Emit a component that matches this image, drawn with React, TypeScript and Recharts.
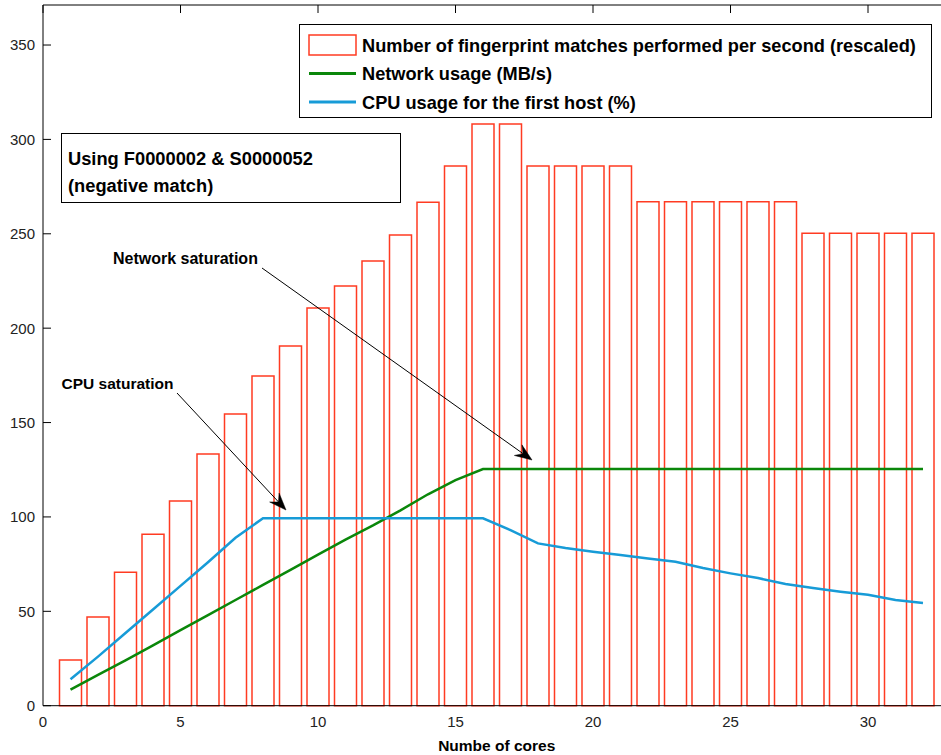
import React from 'react';
import { ComposedChart, Bar, Line, XAxis, YAxis, Legend } from 'recharts';

const cores = [1, 2, 3, 4, 5, 6, 7, 8, 9, 10, 11, 12, 13, 14, 15, 16, 17, 18, 19, 20, 21, 22, 23, 24, 25, 26, 27, 28, 29, 30, 31, 32];
const matchesPerSecond = [24.2, 47, 70.7, 90.8, 108.4, 133.3, 154.5, 174.7, 190.6, 210.7, 222.3, 235.6, 249.4, 266.7, 285.9, 308.2, 308.2, 285.9, 285.9, 285.9, 285.9, 267, 267, 267, 267, 267, 267, 250.3, 250.3, 250.3, 250.3, 250.3];
const networkUsage = [8.5, 16.3, 24, 32, 40, 48, 56, 64, 72, 80, 88, 95.5, 103.5, 112, 119.5, 125.4, 125.4, 125.4, 125.4, 125.4, 125.4, 125.4, 125.4, 125.4, 125.4, 125.4, 125.4, 125.4, 125.4, 125.4, 125.4, 125.4];
const cpuUsage = [14, 26, 38.5, 51, 63.5, 76, 89, 99.3, 99.3, 99.3, 99.3, 99.3, 99.3, 99.3, 99.3, 99.3, 93, 86, 83.5, 81.6, 79.8, 78, 76.3, 72.9, 70.1, 67.6, 64.5, 62.3, 60.4, 58.8, 56, 54.4];

const xTicks = [0, 5, 10, 15, 20, 25, 30];
const yTicks = [0, 50, 100, 150, 200, 250, 300, 350];
const xDomain: [number, number] = [0, 33];
const yDomain: [number, number] = [0, 371.2];

const seriesOrder = ['matches', 'network', 'cpu'];
const seriesNames = {
  matches: 'Number of fingerprint matches performed per second (rescaled)',
  network: 'Network usage (MB/s)',
  cpu: 'CPU usage for the first host (%)',
};

const data = cores.map((c, i) => ({
  cores: c,
  matches: matchesPerSecond[i],
  network: networkUsage[i],
  cpu: cpuUsage[i],
}));

const RED = '#ff3b22';
const GREEN = '#0a870a';
const BLUE = '#179bd7';
const FONT = '"Liberation Sans", Arial, Helvetica, sans-serif';
const colorMap: Record<string, string> = { matches: RED, network: GREEN, cpu: BLUE };

const EmptyTick = () => <g />;

const LeftTick = (props: any) => {
  const { x, y, payload } = props;
  return (
    <g>
      <line x1={x} x2={x + 8} y1={y} y2={y} stroke="#000" strokeWidth={1} />
      <text x={x - 8} y={y} dy="0.36em" textAnchor="end" fontFamily={FONT} fontSize={15} fill="#222">
        {payload.value}
      </text>
    </g>
  );
};

const renderLegend = (props: any) => {
  const payload = [...(props.payload || [])].sort(
    (a: any, b: any) => seriesOrder.indexOf(String(a.dataKey)) - seriesOrder.indexOf(String(b.dataKey))
  );
  return (
    <svg width={633} height={94} style={{ display: 'block' }}>
      <rect x={0.5} y={0.5} width={632} height={93} fill="#fff" stroke="#000" strokeWidth={1} />
      {payload.map((e: any, i: number) => {
        const cy = 21 + i * 28.5;
        const key = String(e.dataKey);
        const c = colorMap[key] || e.color;
        return (
          <g key={i}>
            {key === 'matches' ? (
              <rect x={10} y={cy - 10} width={47} height={20} fill="#fff" stroke={c} strokeWidth={1.5} />
            ) : (
              <line x1={10} x2={57} y1={cy} y2={cy} stroke={c} strokeWidth={3} />
            )}
            <text x={63} y={cy} dy="0.36em" fontFamily={FONT} fontSize={18.2} fontWeight="bold" fill="#000">
              {e.value}
            </text>
          </g>
        );
      })}
    </svg>
  );
};

function arrowPoints(x1: number, y1: number, x2: number, y2: number, len = 17, half = 6.5, notch = 11) {
  const dx = x2 - x1;
  const dy = y2 - y1;
  const L = Math.sqrt(dx * dx + dy * dy);
  const ux = dx / L;
  const uy = dy / L;
  const px = -uy;
  const py = ux;
  const bx = x2 - ux * len;
  const by = y2 - uy * len;
  const nx = x2 - ux * notch;
  const ny = y2 - uy * notch;
  return {
    poly: `${x2},${y2} ${bx + px * half},${by + py * half} ${nx},${ny} ${bx - px * half},${by - py * half}`,
    nx,
    ny,
  };
}

const Arrow = ({ x1, y1, x2, y2 }: { x1: number; y1: number; x2: number; y2: number }) => {
  const a = arrowPoints(x1, y1, x2, y2);
  return (
    <g>
      <line x1={x1} y1={y1} x2={a.nx} y2={a.ny} stroke="#000" strokeWidth={1} />
      <polygon points={a.poly} fill="#000" stroke="#000" strokeWidth={0.5} />
    </g>
  );
};

const Annotations = () => (
  <svg width={941} height={755} style={{ position: 'absolute', left: 0, top: 0, pointerEvents: 'none' }}>
    <rect x={61.5} y={133.5} width={339} height={69} fill="#fff" stroke="#000" strokeWidth={1} />
    <text x={68} y={158} dy="0.36em" fontFamily={FONT} fontSize={18.3} fontWeight="bold" fill="#000">Using F0000002 &amp; S0000052</text>
    <text x={68} y={185} dy="0.36em" fontFamily={FONT} fontSize={18.3} fontWeight="bold" fill="#000">(negative match)</text>
    <text x={113} y={258} dy="0.36em" fontFamily={FONT} fontSize={16} fontWeight="bold" fill="#000">Network saturation</text>
    <text x={61.5} y={383} dy="0.36em" fontFamily={FONT} fontSize={15.5} fontWeight="bold" fill="#000">CPU saturation</text>
    <Arrow x1={262} y1={268} x2={532} y2={460} />
    <Arrow x1={177} y1={393} x2={286} y2={510} />
  </svg>
);

export default function App() {
  return (
    <div style={{ position: 'absolute', left: 0, top: 0, width: 941, height: 755, overflow: 'hidden', background: '#fff' }}>
      <ComposedChart width={960} height={755} data={data} margin={{ top: 5, right: 9.5, bottom: 0, left: 0 }}>
        <XAxis
          dataKey="cores"
          type="number"
          domain={xDomain}
          ticks={xTicks}
          interval={0}
          height={49.3}
          tickSize={0}
          tickMargin={11}
          tickLine={false}
          axisLine={{ stroke: '#000' }}
          tick={{ fontSize: 15, fill: '#222', fontFamily: FONT }}
          label={{ value: 'Numbe of cores', position: 'insideBottom', offset: 4, style: { fontSize: 15.5, fontWeight: 'bold', fill: '#000', fontFamily: FONT } }}
        />
        <XAxis
          xAxisId="top"
          dataKey="cores"
          orientation="top"
          mirror
          type="number"
          domain={xDomain}
          ticks={xTicks}
          interval={0}
          height={1}
          tickSize={8}
          tick={<EmptyTick />}
          tickLine={{ stroke: '#000' }}
          axisLine={{ stroke: '#000' }}
        />
        <YAxis
          type="number"
          domain={yDomain}
          ticks={yTicks}
          interval={0}
          width={43}
          tickSize={0}
          tickMargin={0}
          tickLine={false}
          axisLine={{ stroke: '#000' }}
          tick={<LeftTick />}
        />
        <Bar
          dataKey="matches"
          name={seriesNames.matches}
          legendType="rect"
          fill="#fff"
          stroke={RED}
          strokeWidth={1.5}
          isAnimationActive={false}
        />
        <Line
          type="linear"
          dataKey="network"
          name={seriesNames.network}
          stroke={GREEN}
          strokeWidth={2.5}
          dot={false}
          isAnimationActive={false}
        />
        <Line
          type="linear"
          dataKey="cpu"
          name={seriesNames.cpu}
          stroke={BLUE}
          strokeWidth={2.5}
          dot={false}
          isAnimationActive={false}
        />
        <Legend
          layout="vertical"
          align="center"
          verticalAlign="middle"
          content={renderLegend}
          wrapperStyle={{ left: 299, top: 24, width: 633, height: 94 }}
        />
      </ComposedChart>
      <Annotations />
    </div>
  );
}
